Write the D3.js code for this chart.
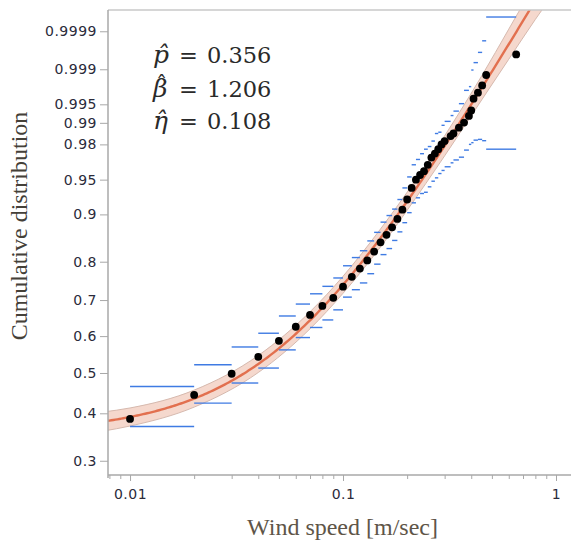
<!DOCTYPE html>
<html><head><meta charset="utf-8">
<script src="https://cdn.jsdelivr.net/npm/d3@7"></script>
<style>body{margin:0;background:#fff}svg{display:block}</style>
</head><body><svg id="c" width="571" height="543"></svg>
<script>
// ---- fitted parameters (shown on chart) ----
const pHat = 0.356, betaHat = 1.206, etaHat = 0.108;

// ---- observed data: wind speed and empirical cumulative distribution ----
const speeds = [0.01,0.02,0.03,0.04,0.05,0.06,0.07,0.08,0.09,0.10,
  0.11,0.12,0.13,0.14,0.15,0.16,0.17,0.18,0.19,0.20,
  0.21,0.22,0.23,0.24,0.25,0.26,0.27,0.28,0.29,0.30,
  0.32,0.33,0.35,0.37,0.39,0.40,0.41,0.43,0.45,0.47,0.65];
const cumProb = [0.387,0.444,0.498,0.543,0.587,0.626,0.659,0.684,0.706,0.736,
  0.762,0.783,0.803,0.824,0.845,0.861,0.876,0.892,0.908,0.924,
  0.940,0.950,0.9551,0.959,0.965,0.971,0.974,0.977,0.980,0.9819,
  0.9845,0.9857,0.9882,0.9901,0.9922,0.99365,0.99603,0.99693,0.99779,0.99866,0.99956];
// confidence bounds of the empirical CDF (step from each speed to the next)
const upperCI = [0.465,0.522,0.570,0.608,0.656,0.689,0.717,0.737,0.759,0.790,
  0.810,0.826,0.848,0.866,0.886,0.898,0.909,0.924,0.940,0.953,
  0.965,0.9695,0.9739,0.977,0.9787,0.9819,0.9857,0.9863,0.9891,0.9905,
  0.9923,0.99348,0.99513,0.99723,0.99766,0.99896,0.99930,0.99961,0.99981,0.999965];
const lowerCI = [0.370,0.424,0.474,0.513,0.562,0.596,0.624,0.645,0.673,0.708,
  0.728,0.746,0.770,0.794,0.817,0.831,0.849,0.867,0.885,0.903,
  0.919,0.9265,0.9326,0.9343,0.9414,0.9482,0.952,0.9566,0.9597,0.9632,
  0.9667,0.9691,0.9713,0.9764,0.980,0.981,0.9824,0.9828,0.9821,0.9770];

// ---- confidence band of the fitted model ----
const bandX     = [0.0075,0.01,0.02,0.04,0.07,0.1,0.15,0.2,0.3,0.45,0.6,0.8,1.0];
const bandLower = [0.3602,0.3712,0.4145,0.5012,0.6203,0.7183,0.8346,0.9070,0.9723,0.99594,0.99942,0.999958,0.9999965];
const bandUpper = [0.4031,0.4125,0.4560,0.5467,0.6676,0.7634,0.8728,0.9343,0.9846,0.99865,0.999914,0.9999985,0.99999999];

// ---- ticks ----
const yTickValues = [0.3,0.4,0.5,0.6,0.7,0.8,0.9,0.95,0.98,0.99,0.995,0.999,0.9999];
const yTickLabels = ["0.3","0.4","0.5","0.6","0.7","0.8","0.9","0.95","0.98","0.99","0.995","0.999","0.9999"];
const xTickValues = [0.01,0.1,1];
const xTickLabels = ["0.01","0.1","1"];
const xMinorTicks = [0.008,0.009,0.02,0.03,0.04,0.05,0.06,0.07,0.08,0.09,0.2,0.3,0.4,0.5,0.6,0.7,0.8,0.9];

const xTitle = "Wind speed [m/sec]";
const yTitle = "Cumulative distribution";

// ---- layout ----
const L = 108, R = 571, T = 10, B = 475;
const svg = d3.select("#c");
svg.append("rect").attr("width",571).attr("height",543).attr("fill","#fff");

const x = d3.scaleLog().domain([0.00788, 1.176]).range([L, R]);
const weib = p => Math.log(-Math.log(1 - p));
const yL = d3.scaleLinear().domain([weib(0.274), weib(0.99998)]).range([B, T]);
const y = p => yL(weib(p));

svg.append("defs").append("clipPath").attr("id","clip")
  .append("rect").attr("x",L).attr("y",T).attr("width",R-L).attr("height",B-T);
const plot = svg.append("g").attr("clip-path","url(#clip)");

// band
const band = bandX.map((v,i)=>({x:v, lo:bandLower[i], hi:bandUpper[i]}));
plot.append("path").datum(band)
  .attr("d", d3.area().x(d=>x(d.x)).y0(d=>y(d.lo)).y1(d=>y(d.hi)).curve(d3.curveMonotoneX))
  .attr("fill","#f5d8cd").attr("stroke","#d6b9ae").attr("stroke-width",1);

// fitted CDF from the displayed parameters
const fitF = v => pHat + (1 - pHat) * (1 - Math.exp(-Math.pow(v / etaHat, betaHat)));
const grid = d3.range(0, 241).map(i => 0.0075 * Math.pow(1.3 / 0.0075, i / 240));
plot.append("path").datum(grid)
  .attr("d", d3.line().x(v=>x(v)).y(v=>y(fitF(v))))
  .attr("fill","none").attr("stroke","#e2704f").attr("stroke-width",2.4);

// CI step segments
const segs = upperCI.map((u,i)=>({x0:speeds[i], x1:speeds[i+1], u:u, l:lowerCI[i]}));
const sg = plot.append("g").attr("stroke","#3f7be3").attr("stroke-width",1.4);
segs.forEach(s=>{
  sg.append("line").attr("x1",x(s.x0)).attr("x2",x(s.x1)).attr("y1",y(s.u)).attr("y2",y(s.u));
  sg.append("line").attr("x1",x(s.x0)).attr("x2",x(s.x1)).attr("y1",y(s.l)).attr("y2",y(s.l));
});

// points
plot.append("g").selectAll("circle").data(speeds).join("circle")
  .attr("cx", v=>x(v)).attr("cy", (v,i)=>y(cumProb[i])).attr("r",3.9).attr("fill","#000");

// ---- axes ----
const axColor = "#a8a8a8", lblColor = "#2b2b3b";
const yAxis = svg.append("g").attr("transform",`translate(${L},0)`)
  .call(d3.axisLeft(yL).tickValues(yTickValues.map(weib)).tickFormat((d,i)=>yTickLabels[i]).tickSize(8).tickPadding(3));
const xMinor = svg.append("g").attr("transform",`translate(0,${B})`)
  .call(d3.axisBottom(x).tickValues(xMinorTicks).tickFormat("").tickSize(4));
const xAxis = svg.append("g").attr("transform",`translate(0,${B})`)
  .call(d3.axisBottom(x).tickValues(xTickValues).tickFormat((d,i)=>xTickLabels[i]).tickSize(6).tickPadding(8));
[yAxis,xMinor,xAxis].forEach(g=>{
  g.select(".domain").remove();
  g.selectAll(".tick line").attr("stroke",axColor).attr("stroke-width",1);
  g.selectAll("text").attr("fill",lblColor).style("font-family","'DejaVu Sans', Verdana, sans-serif")
    .style("font-size","14px").style("letter-spacing","0.5px");
});

// frame
svg.append("line").attr("x1",L).attr("x2",R).attr("y1",T).attr("y2",T).attr("stroke","#c8c8c8").attr("stroke-width",1.5);
svg.append("line").attr("x1",L).attr("x2",R).attr("y1",B).attr("y2",B).attr("stroke",axColor).attr("stroke-width",1.5);
svg.append("line").attr("x1",L).attr("x2",L).attr("y1",T).attr("y2",B+3).attr("stroke",axColor).attr("stroke-width",1.5);

// titles
svg.append("text").attr("x",342.5).attr("y",535).attr("text-anchor","middle")
  .style("font-family","'Liberation Serif','Times New Roman',serif").style("font-size","24px")
  .attr("fill","#5e5548").text(xTitle);
svg.append("text").attr("transform","translate(27,226) rotate(-90)").attr("text-anchor","middle")
  .style("font-family","'Liberation Serif','Times New Roman',serif").style("font-size","24px")
  .attr("fill","#444038").text(yTitle);

// ---- parameter annotation ----
// p and eta: letter + combining circumflex; beta: hat raised above the ascender
const annot = [
  {sym:"p\u0302", val:pHat.toFixed(3), y:63, raisedHat:false},
  {sym:"\u03B2", val:betaHat.toFixed(3), y:96.5, raisedHat:true},
  {sym:"\u03B7\u0302", val:etaHat.toFixed(3), y:128.5, raisedHat:false}
];
const ag = svg.append("g").attr("fill","#2a2a2a")
  .style("font-family","'DejaVu Serif','Liberation Serif',serif").style("font-size","22.5px");
annot.forEach(a=>{
  const t = ag.append("text").attr("x",153).attr("y",a.y);
  t.append("tspan").style("font-style","italic").style("font-size","25px").text(a.sym);
  if (a.raisedHat) t.append("tspan").attr("x",156).attr("dy",-5).text("\u02C6");
  t.append("tspan").attr("x",179).attr("y",a.y).text("=");
  t.append("tspan").attr("x",207).attr("y",a.y).text(a.val);
});
</script></body></html>
